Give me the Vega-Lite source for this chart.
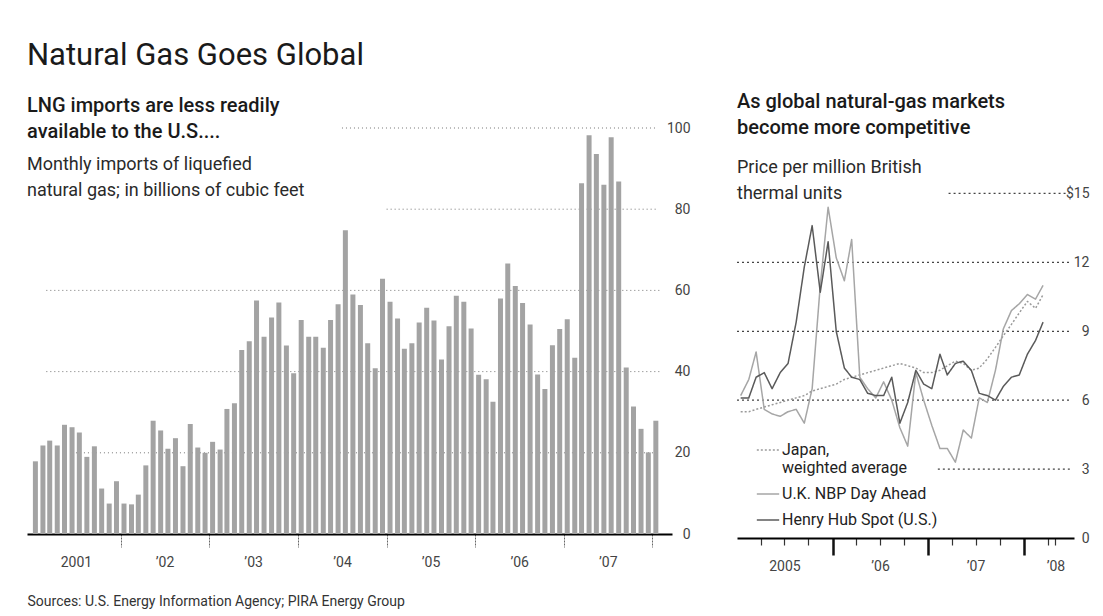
{
  "$schema": "https://vega.github.io/schema/vega-lite/v6.json",
  "background": "white",
  "padding": {"left": 27, "top": 40, "right": 5, "bottom": 2},
  "title": {"text": "Natural Gas Goes Global", "anchor": "start", "fontSize": 31, "fontWeight": "normal", "color": "#1a1a1a", "offset": 20, "font": "Roboto"},
  "datasets": {
    "imports": [
      {"date": "2001-01-15", "value": 17.9}, {"date": "2001-02-15", "value": 21.8}, {"date": "2001-03-15", "value": 23.0}, {"date": "2001-04-15", "value": 21.8},
      {"date": "2001-05-15", "value": 26.9}, {"date": "2001-06-15", "value": 26.3}, {"date": "2001-07-15", "value": 25.0}, {"date": "2001-08-15", "value": 19.0},
      {"date": "2001-09-15", "value": 21.6}, {"date": "2001-10-15", "value": 11.2}, {"date": "2001-11-15", "value": 7.5}, {"date": "2001-12-15", "value": 13.0},
      {"date": "2002-01-15", "value": 7.5}, {"date": "2002-02-15", "value": 7.3}, {"date": "2002-03-15", "value": 9.7}, {"date": "2002-04-15", "value": 16.9},
      {"date": "2002-05-15", "value": 27.9}, {"date": "2002-06-15", "value": 25.5}, {"date": "2002-07-15", "value": 21.0}, {"date": "2002-08-15", "value": 23.6},
      {"date": "2002-09-15", "value": 16.7}, {"date": "2002-10-15", "value": 27.1}, {"date": "2002-11-15", "value": 21.3}, {"date": "2002-12-15", "value": 20.0},
      {"date": "2003-01-15", "value": 22.7}, {"date": "2003-02-15", "value": 20.8}, {"date": "2003-03-15", "value": 30.8}, {"date": "2003-04-15", "value": 32.2},
      {"date": "2003-05-15", "value": 45.3}, {"date": "2003-06-15", "value": 47.5}, {"date": "2003-07-15", "value": 57.5}, {"date": "2003-08-15", "value": 48.6},
      {"date": "2003-09-15", "value": 53.3}, {"date": "2003-10-15", "value": 57.0}, {"date": "2003-11-15", "value": 46.4}, {"date": "2003-12-15", "value": 39.6},
      {"date": "2004-01-15", "value": 52.7}, {"date": "2004-02-15", "value": 48.6}, {"date": "2004-03-15", "value": 48.6}, {"date": "2004-04-15", "value": 45.9},
      {"date": "2004-05-15", "value": 52.7}, {"date": "2004-06-15", "value": 56.6}, {"date": "2004-07-15", "value": 74.8}, {"date": "2004-08-15", "value": 59.0},
      {"date": "2004-09-15", "value": 56.4}, {"date": "2004-10-15", "value": 47.0}, {"date": "2004-11-15", "value": 40.8}, {"date": "2004-12-15", "value": 62.9},
      {"date": "2005-01-15", "value": 57.2}, {"date": "2005-02-15", "value": 53.1}, {"date": "2005-03-15", "value": 45.6}, {"date": "2005-04-15", "value": 47.0},
      {"date": "2005-05-15", "value": 52.1}, {"date": "2005-06-15", "value": 55.7}, {"date": "2005-07-15", "value": 52.6}, {"date": "2005-08-15", "value": 43.0},
      {"date": "2005-09-15", "value": 51.2}, {"date": "2005-10-15", "value": 58.7}, {"date": "2005-11-15", "value": 57.2}, {"date": "2005-12-15", "value": 50.6},
      {"date": "2006-01-15", "value": 39.2}, {"date": "2006-02-15", "value": 38.1}, {"date": "2006-03-15", "value": 32.6}, {"date": "2006-04-15", "value": 58.0},
      {"date": "2006-05-15", "value": 66.6}, {"date": "2006-06-15", "value": 61.1}, {"date": "2006-07-15", "value": 56.9}, {"date": "2006-08-15", "value": 51.6},
      {"date": "2006-09-15", "value": 39.3}, {"date": "2006-10-15", "value": 35.7}, {"date": "2006-11-15", "value": 46.5}, {"date": "2006-12-15", "value": 50.5},
      {"date": "2007-01-15", "value": 52.9}, {"date": "2007-02-15", "value": 43.4}, {"date": "2007-03-15", "value": 86.4}, {"date": "2007-04-15", "value": 98.2},
      {"date": "2007-05-15", "value": 93.6}, {"date": "2007-06-15", "value": 86.0}, {"date": "2007-07-15", "value": 97.7}, {"date": "2007-08-15", "value": 86.8},
      {"date": "2007-09-15", "value": 41.0}, {"date": "2007-10-15", "value": 31.4}, {"date": "2007-11-15", "value": 25.9}, {"date": "2007-12-15", "value": 20.1},
      {"date": "2008-01-15", "value": 27.9}
    ],
    "lgrid": [
      {"value": 100, "date": "2004-07-01", "date2": "2008-01-20"},
      {"value": 80, "date": "2005-01-01", "date2": "2008-01-20"},
      {"value": 60, "date": "2001-03-01", "date2": "2008-02-01"},
      {"value": 40, "date": "2001-03-01", "date2": "2008-02-01"},
      {"value": 20, "date": "2001-07-01", "date2": "2008-02-01"}
    ],
    "rgrid": [
      {"value": 15, "date": "2007-03-20", "date2": "2008-06-25"},
      {"value": 12, "date": "2005-01-01", "date2": "2008-06-25"},
      {"value": 9, "date": "2005-01-01", "date2": "2008-06-25"},
      {"value": 6, "date": "2005-01-01", "date2": "2008-06-25"},
      {"value": 3, "date": "2007-02-07", "date2": "2008-06-25"}
    ],
    "prices": [
      {"date": "2005-01-15", "series": "Japan, weighted average", "value": 5.5},
      {"date": "2005-02-15", "series": "Japan, weighted average", "value": 5.5},
      {"date": "2005-03-15", "series": "Japan, weighted average", "value": 5.6},
      {"date": "2005-04-15", "series": "Japan, weighted average", "value": 5.7},
      {"date": "2005-05-15", "series": "Japan, weighted average", "value": 5.8},
      {"date": "2005-06-15", "series": "Japan, weighted average", "value": 5.9},
      {"date": "2005-07-15", "series": "Japan, weighted average", "value": 6.0},
      {"date": "2005-08-15", "series": "Japan, weighted average", "value": 6.1},
      {"date": "2005-09-15", "series": "Japan, weighted average", "value": 6.2},
      {"date": "2005-10-15", "series": "Japan, weighted average", "value": 6.4},
      {"date": "2005-11-15", "series": "Japan, weighted average", "value": 6.5},
      {"date": "2005-12-15", "series": "Japan, weighted average", "value": 6.6},
      {"date": "2006-01-15", "series": "Japan, weighted average", "value": 6.7},
      {"date": "2006-02-15", "series": "Japan, weighted average", "value": 6.9},
      {"date": "2006-03-15", "series": "Japan, weighted average", "value": 7.0},
      {"date": "2006-04-15", "series": "Japan, weighted average", "value": 7.1},
      {"date": "2006-05-15", "series": "Japan, weighted average", "value": 7.2},
      {"date": "2006-06-15", "series": "Japan, weighted average", "value": 7.3},
      {"date": "2006-07-15", "series": "Japan, weighted average", "value": 7.4},
      {"date": "2006-08-15", "series": "Japan, weighted average", "value": 7.5},
      {"date": "2006-09-15", "series": "Japan, weighted average", "value": 7.6},
      {"date": "2006-10-15", "series": "Japan, weighted average", "value": 7.5},
      {"date": "2006-11-15", "series": "Japan, weighted average", "value": 7.4},
      {"date": "2006-12-15", "series": "Japan, weighted average", "value": 7.2},
      {"date": "2007-01-15", "series": "Japan, weighted average", "value": 7.2},
      {"date": "2007-02-15", "series": "Japan, weighted average", "value": 7.3},
      {"date": "2007-03-15", "series": "Japan, weighted average", "value": 7.5},
      {"date": "2007-04-15", "series": "Japan, weighted average", "value": 7.7},
      {"date": "2007-05-15", "series": "Japan, weighted average", "value": 7.6},
      {"date": "2007-06-15", "series": "Japan, weighted average", "value": 7.3},
      {"date": "2007-07-15", "series": "Japan, weighted average", "value": 7.4},
      {"date": "2007-08-15", "series": "Japan, weighted average", "value": 7.8},
      {"date": "2007-09-15", "series": "Japan, weighted average", "value": 8.3},
      {"date": "2007-10-15", "series": "Japan, weighted average", "value": 8.8},
      {"date": "2007-11-15", "series": "Japan, weighted average", "value": 9.3},
      {"date": "2007-12-15", "series": "Japan, weighted average", "value": 9.8},
      {"date": "2008-01-15", "series": "Japan, weighted average", "value": 10.3},
      {"date": "2008-02-15", "series": "Japan, weighted average", "value": 10.0},
      {"date": "2008-03-15", "series": "Japan, weighted average", "value": 10.6},
      {"date": "2005-01-15", "series": "U.K. NBP Day Ahead", "value": 6.2},
      {"date": "2005-02-15", "series": "U.K. NBP Day Ahead", "value": 6.9},
      {"date": "2005-03-15", "series": "U.K. NBP Day Ahead", "value": 8.1},
      {"date": "2005-04-15", "series": "U.K. NBP Day Ahead", "value": 5.6},
      {"date": "2005-05-15", "series": "U.K. NBP Day Ahead", "value": 5.4},
      {"date": "2005-06-15", "series": "U.K. NBP Day Ahead", "value": 5.3},
      {"date": "2005-07-15", "series": "U.K. NBP Day Ahead", "value": 5.5},
      {"date": "2005-08-15", "series": "U.K. NBP Day Ahead", "value": 5.6},
      {"date": "2005-09-15", "series": "U.K. NBP Day Ahead", "value": 5.0},
      {"date": "2005-10-15", "series": "U.K. NBP Day Ahead", "value": 6.5},
      {"date": "2005-11-15", "series": "U.K. NBP Day Ahead", "value": 11.0},
      {"date": "2005-12-15", "series": "U.K. NBP Day Ahead", "value": 14.4},
      {"date": "2006-01-15", "series": "U.K. NBP Day Ahead", "value": 12.2},
      {"date": "2006-02-15", "series": "U.K. NBP Day Ahead", "value": 11.2},
      {"date": "2006-03-15", "series": "U.K. NBP Day Ahead", "value": 13.0},
      {"date": "2006-04-15", "series": "U.K. NBP Day Ahead", "value": 7.0},
      {"date": "2006-05-15", "series": "U.K. NBP Day Ahead", "value": 6.5},
      {"date": "2006-06-15", "series": "U.K. NBP Day Ahead", "value": 6.1},
      {"date": "2006-07-15", "series": "U.K. NBP Day Ahead", "value": 6.8},
      {"date": "2006-08-15", "series": "U.K. NBP Day Ahead", "value": 6.0},
      {"date": "2006-09-15", "series": "U.K. NBP Day Ahead", "value": 4.8},
      {"date": "2006-10-15", "series": "U.K. NBP Day Ahead", "value": 4.0},
      {"date": "2006-11-15", "series": "U.K. NBP Day Ahead", "value": 7.2},
      {"date": "2006-12-15", "series": "U.K. NBP Day Ahead", "value": 6.0},
      {"date": "2007-01-15", "series": "U.K. NBP Day Ahead", "value": 4.9},
      {"date": "2007-02-15", "series": "U.K. NBP Day Ahead", "value": 3.9},
      {"date": "2007-03-15", "series": "U.K. NBP Day Ahead", "value": 3.9},
      {"date": "2007-04-15", "series": "U.K. NBP Day Ahead", "value": 3.3},
      {"date": "2007-05-15", "series": "U.K. NBP Day Ahead", "value": 4.7},
      {"date": "2007-06-15", "series": "U.K. NBP Day Ahead", "value": 4.35},
      {"date": "2007-07-15", "series": "U.K. NBP Day Ahead", "value": 6.1},
      {"date": "2007-08-15", "series": "U.K. NBP Day Ahead", "value": 5.9},
      {"date": "2007-09-15", "series": "U.K. NBP Day Ahead", "value": 7.3},
      {"date": "2007-10-15", "series": "U.K. NBP Day Ahead", "value": 9.1},
      {"date": "2007-11-15", "series": "U.K. NBP Day Ahead", "value": 9.9},
      {"date": "2007-12-15", "series": "U.K. NBP Day Ahead", "value": 10.2},
      {"date": "2008-01-15", "series": "U.K. NBP Day Ahead", "value": 10.6},
      {"date": "2008-02-15", "series": "U.K. NBP Day Ahead", "value": 10.4},
      {"date": "2008-03-15", "series": "U.K. NBP Day Ahead", "value": 11.0},
      {"date": "2005-01-15", "series": "Henry Hub Spot (U.S.)", "value": 6.1},
      {"date": "2005-02-15", "series": "Henry Hub Spot (U.S.)", "value": 6.1},
      {"date": "2005-03-15", "series": "Henry Hub Spot (U.S.)", "value": 7.0},
      {"date": "2005-04-15", "series": "Henry Hub Spot (U.S.)", "value": 7.2},
      {"date": "2005-05-15", "series": "Henry Hub Spot (U.S.)", "value": 6.5},
      {"date": "2005-06-15", "series": "Henry Hub Spot (U.S.)", "value": 7.2},
      {"date": "2005-07-15", "series": "Henry Hub Spot (U.S.)", "value": 7.6},
      {"date": "2005-08-15", "series": "Henry Hub Spot (U.S.)", "value": 9.4},
      {"date": "2005-09-15", "series": "Henry Hub Spot (U.S.)", "value": 11.8},
      {"date": "2005-10-15", "series": "Henry Hub Spot (U.S.)", "value": 13.6},
      {"date": "2005-11-15", "series": "Henry Hub Spot (U.S.)", "value": 10.7},
      {"date": "2005-12-15", "series": "Henry Hub Spot (U.S.)", "value": 12.9},
      {"date": "2006-01-15", "series": "Henry Hub Spot (U.S.)", "value": 9.0},
      {"date": "2006-02-15", "series": "Henry Hub Spot (U.S.)", "value": 7.4},
      {"date": "2006-03-15", "series": "Henry Hub Spot (U.S.)", "value": 7.0},
      {"date": "2006-04-15", "series": "Henry Hub Spot (U.S.)", "value": 6.9},
      {"date": "2006-05-15", "series": "Henry Hub Spot (U.S.)", "value": 6.3},
      {"date": "2006-06-15", "series": "Henry Hub Spot (U.S.)", "value": 6.2},
      {"date": "2006-07-15", "series": "Henry Hub Spot (U.S.)", "value": 6.2},
      {"date": "2006-08-15", "series": "Henry Hub Spot (U.S.)", "value": 7.0},
      {"date": "2006-09-15", "series": "Henry Hub Spot (U.S.)", "value": 5.0},
      {"date": "2006-10-15", "series": "Henry Hub Spot (U.S.)", "value": 5.9},
      {"date": "2006-11-15", "series": "Henry Hub Spot (U.S.)", "value": 7.3},
      {"date": "2006-12-15", "series": "Henry Hub Spot (U.S.)", "value": 6.7},
      {"date": "2007-01-15", "series": "Henry Hub Spot (U.S.)", "value": 6.5},
      {"date": "2007-02-15", "series": "Henry Hub Spot (U.S.)", "value": 8.0},
      {"date": "2007-03-15", "series": "Henry Hub Spot (U.S.)", "value": 7.1},
      {"date": "2007-04-15", "series": "Henry Hub Spot (U.S.)", "value": 7.6},
      {"date": "2007-05-15", "series": "Henry Hub Spot (U.S.)", "value": 7.7},
      {"date": "2007-06-15", "series": "Henry Hub Spot (U.S.)", "value": 7.3},
      {"date": "2007-07-15", "series": "Henry Hub Spot (U.S.)", "value": 6.3},
      {"date": "2007-08-15", "series": "Henry Hub Spot (U.S.)", "value": 6.2},
      {"date": "2007-09-15", "series": "Henry Hub Spot (U.S.)", "value": 6.0},
      {"date": "2007-10-15", "series": "Henry Hub Spot (U.S.)", "value": 6.6},
      {"date": "2007-11-15", "series": "Henry Hub Spot (U.S.)", "value": 7.0},
      {"date": "2007-12-15", "series": "Henry Hub Spot (U.S.)", "value": 7.1},
      {"date": "2008-01-15", "series": "Henry Hub Spot (U.S.)", "value": 8.0},
      {"date": "2008-02-15", "series": "Henry Hub Spot (U.S.)", "value": 8.6},
      {"date": "2008-03-15", "series": "Henry Hub Spot (U.S.)", "value": 9.4}
    ]
  },
  "spacing": 46,
  "align": "none",
  "resolve": {"legend": {"color": "independent", "strokeDash": "independent"}},
  "hconcat": [
    {
      "width": 645,
      "height": 406,
      "title": {
        "text": ["LNG imports are less readily", "available to the U.S...."],
        "subtitle": ["Monthly imports of liquefied", "natural gas; in billions of cubic feet"],
        "anchor": "start", "frame": "group", "orient": "top",
        "fontSize": 20, "fontWeight": 500, "lineHeight": 26, "color": "#1a1a1a",
        "subtitleFontSize": 18, "subtitleLineHeight": 26, "subtitleColor": "#2a2a2a", "subtitlePadding": 14,
        "offset": -79
      },
      "encoding": {
        "x": {
          "field": "date", "type": "temporal",
          "scale": {"domain": [{"year": 2001, "month": 1, "date": 1, "utc": true}, {"year": 2008, "month": 3, "date": 1, "utc": true}]},
          "axis": {
            "orient": "bottom",
            "title": "Sources: U.S. Energy Information Agency; PIRA Energy Group",
            "titleAnchor": "start", "titleAlign": "left", "titleFontSize": 14, "titleFontWeight": "normal", "titleColor": "#333333", "titlePadding": 25,
            "values": [
              {"year": 2001, "month": 7, "date": 1, "utc": true},
              {"year": 2002, "month": 1, "date": 1, "utc": true},
              {"year": 2002, "month": 7, "date": 1, "utc": true},
              {"year": 2003, "month": 1, "date": 1, "utc": true},
              {"year": 2003, "month": 7, "date": 1, "utc": true},
              {"year": 2004, "month": 1, "date": 1, "utc": true},
              {"year": 2004, "month": 7, "date": 1, "utc": true},
              {"year": 2005, "month": 1, "date": 1, "utc": true},
              {"year": 2005, "month": 7, "date": 1, "utc": true},
              {"year": 2006, "month": 1, "date": 1, "utc": true},
              {"year": 2006, "month": 7, "date": 1, "utc": true},
              {"year": 2007, "month": 1, "date": 1, "utc": true},
              {"year": 2007, "month": 7, "date": 1, "utc": true},
              {"year": 2008, "month": 1, "date": 1, "utc": true}
            ],
            "labelExpr": "utcmonth(datum.value) == 6 ? (utcyear(datum.value) == 2001 ? '2001' : '’' + substring(toString(utcyear(datum.value)), 2)) : ''",
            "tickSize": 13, "tickColor": "#666666", "tickWidth": 1, "tickDash": [2, 1],
            "tickOpacity": {"condition": {"test": "utcmonth(datum.value) == 0", "value": 1}, "value": 0},
            "labelFontSize": 14, "labelColor": "#444444", "labelPadding": 8, "labelFlush": false, "labelOverlap": false,
            "domainColor": "#000000", "domainWidth": 2, "grid": false
          }
        },
        "y": {
          "field": "value", "type": "quantitative",
          "scale": {"domain": [0, 100]},
          "axis": {
            "orient": "right", "title": null, "values": [0, 20, 40, 60, 80, 100],
            "domain": false, "ticks": false, "tickSize": 0, "grid": false,
            "labelAlign": "right", "labelBaseline": "middle", "labelPadding": 18,
            "labelFontSize": 14, "labelColor": "#444444"
          }
        }
      },
      "layer": [
        {
          "data": {"name": "lgrid"},
          "mark": {"type": "rule", "color": "#777777", "strokeWidth": 1, "strokeDash": [1, 3]},
          "encoding": {"x2": {"field": "date2"}}
        },
        {
          "data": {"name": "imports"},
          "mark": {"type": "bar", "width": 5, "color": "#a3a3a3"},
          "encoding": {}
        }
      ]
    },
    {
      "width": 337,
      "height": 410,
      "title": {
        "text": ["As global natural-gas markets", "become more competitive"],
        "subtitle": ["Price per million British", "thermal units"],
        "anchor": "start", "frame": "group", "orient": "top",
        "fontSize": 20, "fontWeight": 500, "lineHeight": 26, "color": "#1a1a1a",
        "subtitleFontSize": 18, "subtitleLineHeight": 26, "subtitleColor": "#2a2a2a", "subtitlePadding": 21,
        "offset": -75
      },
      "encoding": {
        "x": {
          "field": "date", "type": "temporal",
          "scale": {"domain": [{"year": 2005, "month": 1, "date": 1, "utc": true}, {"year": 2008, "month": 7, "date": 11, "utc": true}]},
          "axis": {
            "orient": "bottom", "title": null,
            "values": [
              {"year": 2005, "month": 4, "date": 1, "utc": true},
              {"year": 2005, "month": 7, "date": 1, "utc": true},
              {"year": 2005, "month": 10, "date": 1, "utc": true},
              {"year": 2006, "month": 1, "date": 1, "utc": true},
              {"year": 2006, "month": 4, "date": 1, "utc": true},
              {"year": 2006, "month": 7, "date": 1, "utc": true},
              {"year": 2006, "month": 10, "date": 1, "utc": true},
              {"year": 2007, "month": 1, "date": 1, "utc": true},
              {"year": 2007, "month": 4, "date": 1, "utc": true},
              {"year": 2007, "month": 7, "date": 1, "utc": true},
              {"year": 2007, "month": 10, "date": 1, "utc": true},
              {"year": 2008, "month": 1, "date": 1, "utc": true},
              {"year": 2008, "month": 4, "date": 1, "utc": true},
              {"year": 2008, "month": 5, "date": 1, "utc": true}
            ],
            "labelExpr": "(utcmonth(datum.value) == 6 || utcmonth(datum.value) == 4) ? (utcyear(datum.value) == 2005 ? '2005' : '’' + substring(toString(utcyear(datum.value)), 2)) : ''",
            "tickSize": {"condition": {"test": "utcmonth(datum.value) == 0", "value": 17}, "value": 7},
            "tickWidth": {"condition": {"test": "utcmonth(datum.value) == 0", "value": 2.5}, "value": 1.2},
            "tickColor": {"condition": {"test": "utcmonth(datum.value) == 0", "value": "#111111"}, "value": "#333333"},
            "labelFontSize": 14, "labelColor": "#444444", "labelPadding": 14, "labelFlush": false, "labelOverlap": false,
            "domainColor": "#000000", "domainWidth": 2, "grid": false
          }
        },
        "y": {
          "field": "value", "type": "quantitative",
          "scale": {"domain": [0, 17.85]},
          "axis": {
            "orient": "right", "title": null, "values": [0, 3, 6, 9, 12, 15],
            "labelExpr": "datum.value == 15 ? '$15' : datum.label",
            "domain": false, "ticks": false, "tickSize": 0, "grid": false,
            "labelAlign": "right", "labelBaseline": "middle", "labelPadding": 15,
            "labelFontSize": 14, "labelColor": "#444444"
          }
        }
      },
      "layer": [
        {
          "data": {"name": "rgrid"},
          "mark": {"type": "rule", "color": "#444444", "strokeWidth": 1.2, "strokeDash": [2, 3]},
          "encoding": {"x2": {"field": "date2"}}
        },
        {
          "data": {"name": "prices"},
          "mark": {"type": "line", "strokeJoin": "round"},
          "encoding": {
            "color": {
              "field": "series", "type": "nominal",
              "scale": {"domain": ["Japan, weighted average", "U.K. NBP Day Ahead", "Henry Hub Spot (U.S.)"], "range": ["#9a9a9a", "#a6a6a6", "#5a5a5a"]},
              "legend": {
                "title": null, "orient": "none", "legendX": 19, "legendY": 310,
                "symbolType": "stroke", "symbolSize": 500, "symbolStrokeWidth": 1.6,
                "labelFontSize": 16, "labelColor": "#222222", "labelLimit": 300, "labelOffset": 2, "rowPadding": 6,
                "labelExpr": "datum.value == 'Japan, weighted average' ? ['Japan,', 'weighted average'] : datum.label"
              }
            },
            "strokeDash": {
              "field": "series", "type": "nominal",
              "scale": {"domain": ["Japan, weighted average", "U.K. NBP Day Ahead", "Henry Hub Spot (U.S.)"], "range": [[2, 2], [1, 0], [1, 0]]},
              "legend": {
                "title": null, "orient": "none", "legendX": 19, "legendY": 310,
                "symbolType": "stroke", "symbolSize": 500, "symbolStrokeWidth": 1.6,
                "labelFontSize": 16, "labelColor": "#222222", "labelLimit": 300, "labelOffset": 2, "rowPadding": 6,
                "labelExpr": "datum.value == 'Japan, weighted average' ? ['Japan,', 'weighted average'] : datum.label"
              }
            },
            "strokeWidth": {
              "field": "series", "type": "nominal",
              "scale": {"domain": ["Japan, weighted average", "U.K. NBP Day Ahead", "Henry Hub Spot (U.S.)"], "range": [1.5, 1.5, 2.3]},
              "legend": null
            }
          }
        }
      ]
    }
  ],
  "config": {
    "font": "Roboto",
    "view": {"stroke": null},
    "axis": {"labelFont": "Roboto", "titleFont": "Roboto"},
    "legend": {"labelFont": "Roboto"},
    "title": {"font": "Roboto", "subtitleFont": "Roboto"}
  }
}
